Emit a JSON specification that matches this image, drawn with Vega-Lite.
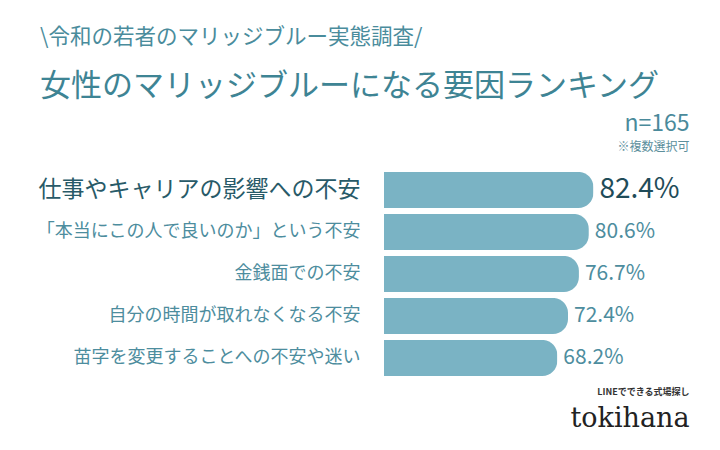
{
  "$schema": "https://vega.github.io/schema/vega-lite/v6.json",
  "width": 305,
  "height": 210,
  "padding": {"left": 36, "top": 26, "right": 25, "bottom": 15},
  "background": "#ffffff",
  "config": {
    "font": "Noto Sans CJK JP",
    "view": {"stroke": null}
  },
  "title": {
    "text": "\\令和の若者のマリッジブルー実態調査/",
    "subtitle": "女性のマリッジブルーになる要因ランキング",
    "anchor": "start",
    "frame": "bounds",
    "fontSize": 21.5,
    "fontWeight": "normal",
    "color": "#4A8C9C",
    "subtitleFontSize": 31,
    "subtitleColor": "#3E8494",
    "subtitlePadding": 24,
    "subtitleFont": "Noto Sans CJK JP",
    "offset": 10,
    "dx": 4
  },
  "data": {
    "values": [
      {"item": "仕事やキャリアの影響への不安", "value": 82.4, "label": "82.4%", "rank": 1},
      {"item": "「本当にこの人で良いのか」という不安", "value": 80.6, "label": "80.6%", "rank": 2},
      {"item": "金銭面での不安", "value": 76.7, "label": "76.7%", "rank": 3},
      {"item": "自分の時間が取れなくなる不安", "value": 72.4, "label": "72.4%", "rank": 4},
      {"item": "苗字を変更することへの不安や迷い", "value": 68.2, "label": "68.2%", "rank": 5}
    ]
  },
  "encoding": {
    "y": {
      "field": "item",
      "type": "nominal",
      "sort": {"field": "rank", "order": "ascending"},
      "scale": {"paddingInner": 0.14, "paddingOuter": 0.07},
      "axis": {
        "title": null,
        "domain": false,
        "ticks": false,
        "labelPadding": 24,
        "labelLimit": 400,
        "labelFontSize": {"condition": {"test": "datum.value === '仕事やキャリアの影響への不安'", "value": 23}, "value": 18},
        "labelFontWeight": "normal",
        "labelColor": {"condition": {"test": "datum.value === '仕事やキャリアの影響への不安'", "value": "#285A68"}, "value": "#4D8D9E"}
      }
    }
  },
  "layer": [
    {
      "mark": {"type": "bar", "color": "#7AB3C4", "cornerRadiusEnd": 15},
      "encoding": {
        "x": {
          "field": "value",
          "type": "quantitative",
          "scale": {"domain": [0, 120], "nice": false},
          "axis": {
            "orient": "top",
            "values": [120],
            "labelExpr": "'※複数選択可'",
            "labelAlign": "right",
            "labelFontSize": 12,
            "labelColor": "#5C8F9C",
            "labelPadding": 16,
            "ticks": false,
            "domain": false,
            "grid": false,
            "title": "n=165",
            "titleFontSize": 23,
            "titleFontWeight": "normal",
            "titleColor": "#4A8A9B",
            "titleAnchor": "end",
            "titleAlign": "right",
            "titlePadding": 5
          }
        }
      }
    },
    {
      "mark": {"type": "text", "align": "left", "baseline": "middle", "dx": 6},
      "encoding": {
        "x": {
          "field": "value",
          "type": "quantitative",
          "axis": {
            "orient": "bottom",
            "values": [120],
            "labelExpr": "'LINEでできる式場探し'",
            "labelAlign": "right",
            "labelFontSize": 9,
            "labelFontWeight": "bold",
            "labelColor": "#333333",
            "labelPadding": 8,
            "ticks": false,
            "domain": false,
            "grid": false,
            "title": "tokihana",
            "titleFont": "DejaVu Serif",
            "titleFontSize": 27,
            "titleFontWeight": "normal",
            "titleColor": "#222222",
            "titleAnchor": "end",
            "titleAlign": "right",
            "titlePadding": 9
          }
        },
        "text": {"field": "label"},
        "size": {"condition": {"test": "datum.rank === 1", "value": 28}, "value": 21},
        "color": {"condition": {"test": "datum.rank === 1", "value": "#1F4C59"}, "value": "#4D8D9E"}
      }
    }
  ],
  "resolve": {"axis": {"x": "independent"}}
}
